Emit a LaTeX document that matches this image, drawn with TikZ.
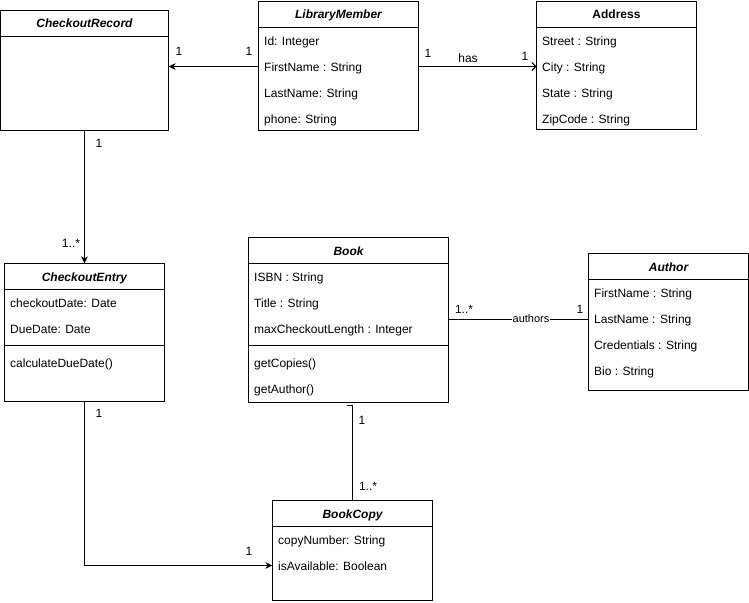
\documentclass[tikz,border=0pt]{standalone}
\usepackage{fontspec}
\setmainfont{Liberation Sans}
\usetikzlibrary{arrows.meta}

\begin{document}
\begin{tikzpicture}[x=1pt, y=-1pt,
  box/.style={draw, line width=1pt, inner sep=0pt, outer sep=0pt, anchor=north west},
  sep/.style={line width=1pt},
  ttl/.style={font=\fontsize{12}{14}\selectfont\bfseries\itshape, inner sep=0pt, anchor=base},
  ttlup/.style={font=\fontsize{12}{14}\selectfont\bfseries, inner sep=0pt, anchor=base},
  attr/.style={font=\fontsize{12}{14}\selectfont, inner sep=0pt, anchor=base west, yshift=-1pt},
  mult/.style={font=\fontsize{12}{14}\selectfont, inner sep=0pt},
  role/.style={font=\fontsize{11}{13}\selectfont, inner sep=1pt, fill=white},
  assoc/.style={line width=1pt},
  navarrow/.style={assoc, -{Stealth[length=7pt,width=6.5pt,inset=2pt]}},
  openarrow/.style={assoc, -{Straight Barb[length=4pt,width=8pt]}}
]
% canvas
\fill[white] (0,0) rectangle (749,602);
\useasboundingbox (0,0) rectangle (749,602);

% ---------- CheckoutRecord ----------
\node[box, minimum width=168pt, minimum height=120pt] (cr) at (0.5,10.5) {};
\draw[sep] ([yshift=-26pt]cr.north west) -- ([yshift=-26pt]cr.north east);
\node[ttl] (crt) at ([yshift=-17.5pt]cr.north) {CheckoutRecord};

% ---------- LibraryMember ----------
\node[box, minimum width=160pt, minimum height=129pt] (lm) at (258.5,1.5) {};
\draw[sep] ([yshift=-26pt]lm.north west) -- ([yshift=-26pt]lm.north east);
\node[ttl] (lmt) at ([yshift=-17.5pt]lm.north) {LibraryMember};
\node[attr] (lm1) at (264,44.5) {Id: Integer};
\node[attr] (lm2) at (264,70.5) {FirstName : String};
\node[attr] (lm3) at (264,96.5) {LastName: String};
\node[attr] (lm4) at (264,122.5) {phone: String};

% ---------- Address ----------
\node[box, minimum width=160pt, minimum height=128pt] (ad) at (536.5,1.5) {};
\draw[sep] ([yshift=-26pt]ad.north west) -- ([yshift=-26pt]ad.north east);
\node[ttlup] (adt) at ([yshift=-17.5pt]ad.north) {Address};
\node[attr] (ad1) at (542,44.5) {Street : String};
\node[attr] (ad2) at (542,70.5) {City : String};
\node[attr] (ad3) at (542,96.5) {State : String};
\node[attr] (ad4) at (542,122.5) {ZipCode : String};

% ---------- CheckoutEntry ----------
\node[box, minimum width=160pt, minimum height=138pt] (ce) at (4.5,263.5) {};
\draw[sep] ([yshift=-26pt]ce.north west) -- ([yshift=-26pt]ce.north east);
\draw[sep] ([yshift=-82pt]ce.north west) -- ([yshift=-82pt]ce.north east);
\node[ttl] (cet) at ([yshift=-17.5pt]ce.north) {CheckoutEntry};
\node[attr] (ce1) at (10,306) {checkoutDate: Date};
\node[attr] (ce2) at (10,332) {DueDate: Date};
\node[attr] (ce3) at (10,366) {calculateDueDate()};

% ---------- Book ----------
\node[box, minimum width=200pt, minimum height=165pt] (bk) at (248.5,237.5) {};
\draw[sep] ([yshift=-26pt]bk.north west) -- ([yshift=-26pt]bk.north east);
\draw[sep] ([yshift=-108pt]bk.north west) -- ([yshift=-108pt]bk.north east);
\node[ttl] (bkt) at ([yshift=-17.5pt]bk.north) {Book};
\node[attr] (bk1) at (254,280) {ISBN : String};
\node[attr] (bk2) at (254,306) {Title : String};
\node[attr] (bk3) at (254,332) {maxCheckoutLength : Integer};
\node[attr] (bk4) at (254,366) {getCopies()};
\node[attr] (bk5) at (254,392) {getAuthor()};

% ---------- Author ----------
\node[box, minimum width=160pt, minimum height=137pt] (au) at (588.5,253.5) {};
\draw[sep] ([yshift=-26pt]au.north west) -- ([yshift=-26pt]au.north east);
\node[ttl] (aut) at ([yshift=-17.5pt]au.north) {Author};
\node[attr] (au1) at (594,296.5) {FirstName : String};
\node[attr] (au2) at (594,322.5) {LastName : String};
\node[attr] (au3) at (594,348.5) {Credentials : String};
\node[attr] (au4) at (594,374.5) {Bio : String};

% ---------- BookCopy ----------
\node[box, minimum width=160pt, minimum height=100pt] (bc) at (272.5,500.5) {};
\draw[sep] ([yshift=-26pt]bc.north west) -- ([yshift=-26pt]bc.north east);
\node[ttl] (bct) at ([yshift=-17.5pt]bc.north) {BookCopy};
\node[attr] (bc1) at (278,543.5) {copyNumber: String};
\node[attr] (bc2) at (278,569.5) {isAvailable: Boolean};

% ---------- connectors ----------
% LibraryMember -> CheckoutRecord
\coordinate (lmw) at ([yshift=-0.5pt]lm.west);
\draw[navarrow] (lmw) -- (lmw -| cr.east);
\node[mult] (m1) at (179,51) {1};
\node[mult] (m2) at (249,51) {1};

% LibraryMember -> Address (has)
\coordinate (lme) at ([yshift=-0.5pt]lm.east);
\draw[openarrow] (lme) -- (lme -| ad.west);
\node[mult] (m3) at (428,53) {1};
\node[mult] (hs) at (468,58) {has};
\node[mult] (m4) at (525,56) {1};

% CheckoutRecord -> CheckoutEntry
\draw[navarrow] (cr.south) -- (cr.south |- ce.north);
\node[mult] (m5) at (99,143) {1};
\node[mult] (m6) at (71,243) {1..*};

% CheckoutEntry -> BookCopy
\coordinate (bcin) at ([yshift=-15pt]bc.west);
\draw[navarrow] (ce.south) |- (bcin);
\node[mult] (m7) at (99,413) {1};
\node[mult] (m8) at (249,551) {1};

% Book -- BookCopy
\draw[assoc] ([shift={(-2pt,-2.5pt)}]bk.south) -| (bc.north);
\node[mult] (m9) at (362,420) {1};
\node[mult] (m10) at (368,486) {1..*};

% Book -- Author (authors)
\coordinate (bke) at ([yshift=0.5pt]bk.east);
\draw[assoc] (bke) -- (bke -| au.west);
\node[role] (rl) at (531,319) {authors};
\node[mult] (m11) at (464,309) {1..*};
\node[mult] (m12) at (580,309) {1};
\end{tikzpicture}
\end{document}
